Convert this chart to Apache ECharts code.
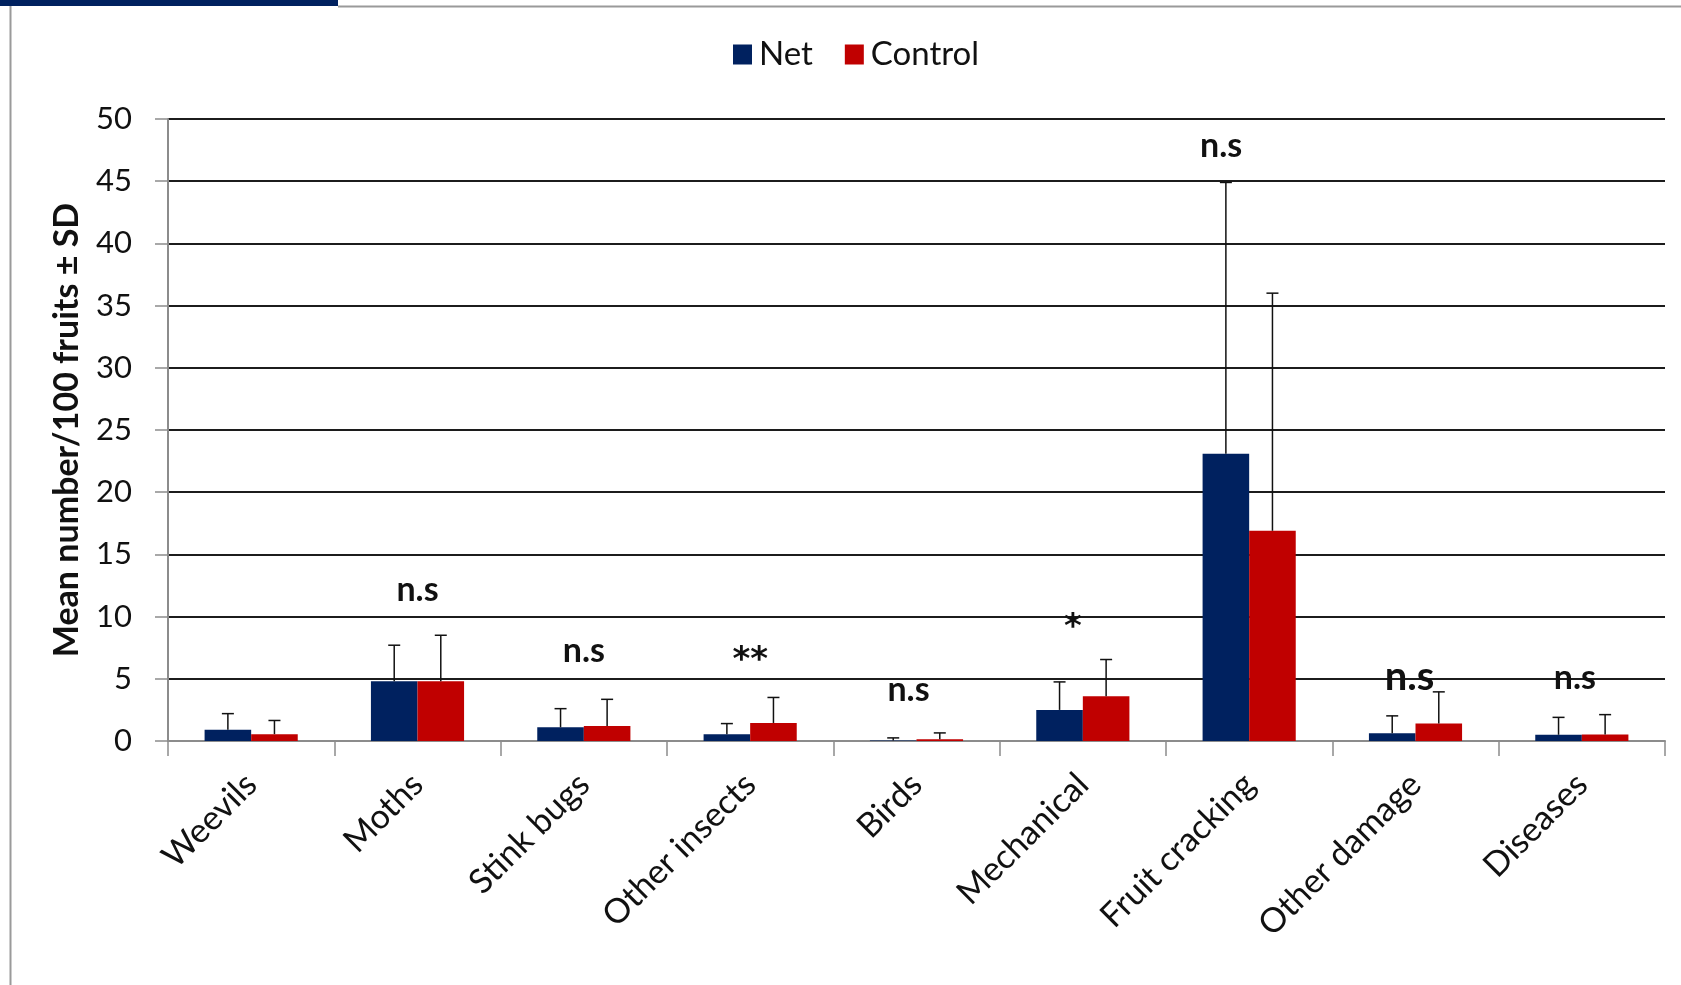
<!DOCTYPE html>
<html>
<head>
<meta charset="utf-8">
<title>Fruit damage: Net vs Control</title>
<script src="https://cdn.jsdelivr.net/npm/echarts@6/dist/echarts.min.js"></script>
<style>
  html, body { margin: 0; padding: 0; background: #ffffff; }
  #chart { width: 1681px; height: 985px; }
</style>
</head>
<body>
<div id="chart"></div>
<script>
// Damage categories on the x axis
const categories = ['Weevils', 'Moths', 'Stink bugs', 'Other insects', 'Birds',
  'Mechanical', 'Fruit cracking', 'Other damage', 'Diseases'];

// Mean number of damaged fruits per 100 fruits, and standard deviations
const netMean  = [0.9, 4.8, 1.1, 0.55, 0.05, 2.5, 23.1, 0.62, 0.5];
const netSD    = [1.3, 2.9, 1.5, 0.85, 0.2, 2.25, 21.8, 1.4, 1.4];
const ctrlMean = [0.55, 4.8, 1.2, 1.45, 0.15, 3.6, 16.9, 1.4, 0.52];
const ctrlSD   = [1.1, 3.7, 2.15, 2.05, 0.5, 2.95, 19.1, 2.55, 1.6];

// Significance marks above each pair, and the height (axis units) they sit at
const sigText  = ['', 'n.s', 'n.s', '**', 'n.s', '*', 'n.s', 'n.s', 'n.s'];
const sigLevel = [null, 12.1, 7.2, 6.4, 4.1, 9.1, 47.8, 5.1, 5.1];

// Y axis ticks
const yMin = 0, yMax = 50, yStep = 5;

const NAVY = '#00215f';
const RED = '#c00000';
const FONT = 'Lato, "Open Sans", sans-serif';
const CAT_GAP = 0.44;   // share of each category left empty around the pair of bars

const chart = echarts.init(document.getElementById('chart'), null, { renderer: 'canvas' });

// Upper error whisker with a cap, drawn on top of one of the two bars
function errorBar(means, sds, side) {
  return {
    type: 'custom',
    silent: true,
    z: 5,
    data: means.map((m, i) => [i, m, m + sds[i]]),
    renderItem(params, api) {
      const catW = api.size([1, 0])[0];
      const barW = catW * (1 - CAT_GAP) / 2;
      const base = api.coord([api.value(0), api.value(1)]);
      const top = api.coord([api.value(0), api.value(2)]);
      const x = base[0] + side * barW / 2;
      const cap = 6;
      return {
        type: 'group',
        children: [
          { type: 'line', shape: { x1: x, y1: base[1], x2: x, y2: top[1] },
            style: { stroke: '#111', lineWidth: 1.5 } },
          { type: 'line', shape: { x1: x - cap, y1: top[1], x2: x + cap, y2: top[1] },
            style: { stroke: '#111', lineWidth: 1.5 } }
        ]
      };
    }
  };
}

// Per-mark label tweaks for the significance notes
const starFont = '"DejaVu Sans", sans-serif';
const sigStyle = {
  'Other insects': { fontFamily: starFont, fontSize: 34 },
  'Birds': { offset: [-8, 0] },
  'Mechanical': { fontFamily: starFont, fontSize: 34, offset: [-10, 0] },
  'Fruit cracking': { offset: [-28, 0] },
  'Other damage': { fontSize: 40, offset: [-6, 0] },
  'Diseases': { offset: [-7, 0] }
};

const sigData = categories.map((c, i) => {
  if (!sigText[i]) return { value: [i, null] };
  const extra = sigStyle[c] || {};
  return {
    value: [i, sigLevel[i]],
    label: Object.assign({ formatter: sigText[i] }, extra)
  };
});

chart.setOption({
  backgroundColor: '#ffffff',
  animation: false,
  textStyle: { fontFamily: FONT },
  graphic: [
    { type: 'rect', shape: { x: 0, y: 0, width: 338, height: 6 }, style: { fill: '#00215f' }, z: 10 },
    { type: 'line', shape: { x1: 338, y1: 6.5, x2: 1681, y2: 6.5 }, style: { stroke: '#9a9a9a', lineWidth: 2 } },
    { type: 'line', shape: { x1: 10.5, y1: 6, x2: 10.5, y2: 985 }, style: { stroke: '#9a9a9a', lineWidth: 2 } }
  ],
  legend: {
    left: 728,
    top: 33,
    icon: 'rect',
    itemWidth: 19,
    itemHeight: 20,
    itemGap: 32,
    textStyle: { fontSize: 33, color: '#111', fontFamily: FONT, padding: [0, 0, 0, 2] },
    data: ['Net', 'Control']
  },
  grid: { left: 168, right: 16, top: 119, bottom: 244 },
  xAxis: {
    type: 'category',
    data: categories,
    boundaryGap: true,
    axisLine: { show: true, lineStyle: { color: '#8c8c8c', width: 2 } },
    axisTick: { show: true, length: 15, lineStyle: { color: '#8c8c8c', width: 1.5 } },
    axisLabel: {
      rotate: 45,
      interval: 0,
      margin: 38,
      fontSize: 34,
      color: '#111',
      fontFamily: FONT
    }
  },
  yAxis: {
    type: 'value',
    min: yMin,
    max: yMax,
    interval: yStep,
    name: 'Mean number/100 fruits \u00b1 SD',
    nameLocation: 'middle',
    nameGap: 84,
    nameTextStyle: { fontSize: 34, fontWeight: 'bold', color: '#111', fontFamily: FONT },
    axisLine: { show: true, lineStyle: { color: '#8c8c8c', width: 2 } },
    axisTick: { show: true, length: 13, lineStyle: { color: '#8c8c8c', width: 1.5 } },
    axisLabel: { margin: 36, fontSize: 31, color: '#111', fontFamily: FONT },
    splitLine: { show: true, lineStyle: { color: '#1c1c1c', width: 2 } }
  },
  series: [
    {
      name: 'Net',
      type: 'bar',
      data: netMean,
      barGap: '0%',
      barCategoryGap: (CAT_GAP * 100) + '%',
      itemStyle: { color: NAVY },
      z: 3
    },
    {
      name: 'Control',
      type: 'bar',
      data: ctrlMean,
      barGap: '0%',
      barCategoryGap: (CAT_GAP * 100) + '%',
      itemStyle: { color: RED },
      z: 3
    },
    errorBar(netMean, netSD, -1),
    errorBar(ctrlMean, ctrlSD, 1),
    {
      type: 'scatter',
      silent: true,
      symbolSize: 1,
      z: 6,
      itemStyle: { opacity: 1, color: 'rgba(0,0,0,0)' },
      data: sigData,
      label: {
        show: true,
        position: 'inside',
        fontSize: 34,
        fontWeight: 'bold',
        color: '#111',
        opacity: 1,
        fontFamily: FONT
      }
    }
  ]
});
</script>
</body>
</html>
